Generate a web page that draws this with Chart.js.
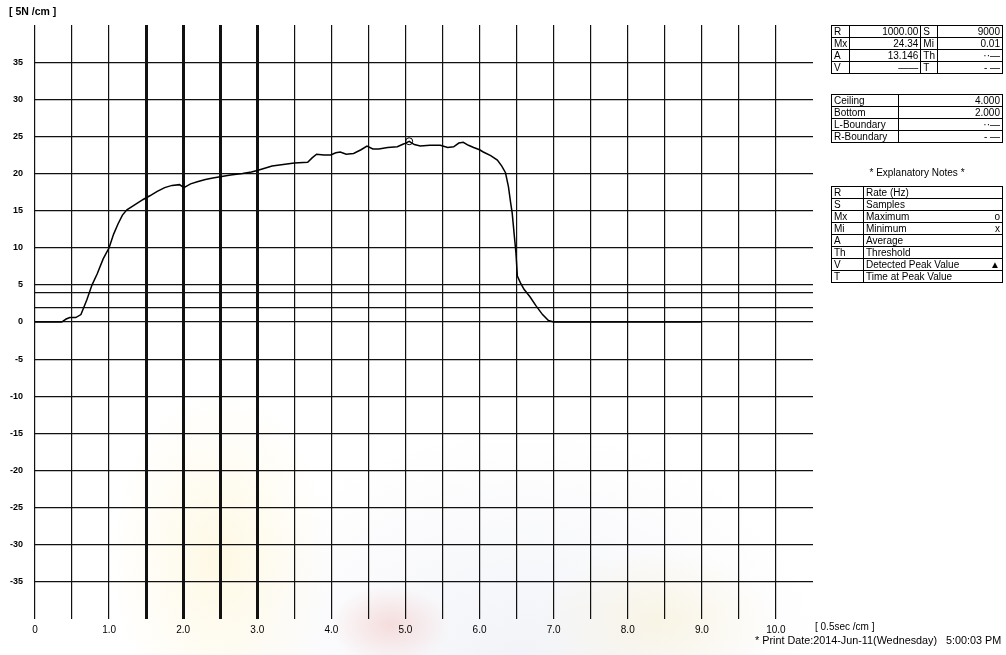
<!DOCTYPE html>
<html lang="en">
<head>
    <meta charset="UTF-8">
    <title>Force record</title>
    <script src="https://cdn.jsdelivr.net/npm/chart.js@4.4.3/dist/chart.umd.min.js"></script>
    <style>
        body { margin: 0; background: #fff; font-family: "Liberation Sans", Arial, sans-serif; color: #000; }
        #wrap { position: relative; width: 1006px; height: 655px; }
        #wm {
            position: absolute; left: 0; top: 0; width: 1006px; height: 655px;
            background:
                radial-gradient(ellipse 60px 40px at 390px 625px, rgba(235, 120, 110, 0.22), rgba(235, 120, 110, 0) 100%),
                radial-gradient(ellipse 110px 170px at 220px 560px, rgba(250, 215, 90, 0.16), rgba(250, 215, 90, 0) 100%),
                radial-gradient(ellipse 120px 70px at 660px 620px, rgba(250, 215, 90, 0.14), rgba(250, 215, 90, 0) 100%),
                radial-gradient(ellipse 300px 230px at 520px 660px, rgba(150, 160, 200, 0.12), rgba(150, 160, 200, 0) 100%);
        }
        #chart { position: absolute; left: 0; top: 0; }
        .lbl { position: absolute; font-size: 11px; white-space: nowrap; }
        table.info { position: absolute; border-collapse: collapse; font-size: 10px; border: 1.5px solid #000; }
        table.info td { border: 1px solid #000; padding: 0 2px; height: 11px; line-height: 11px; }
        table.info td.v { text-align: right; }
    </style>
</head>
<body>
<div id="wrap">
    <div id="wm"></div>
    <canvas id="chart" width="1006" height="655"></canvas>

    <div class="lbl" style="left:9px; top:5px; font-weight:bold; font-size:10.5px;">[ 5N /cm ]</div>
    <div class="lbl" style="left:815px; top:621px; font-size:10px;">[ 0.5sec /cm ]</div>
    <div class="lbl" style="left:755px; top:634px; font-size:10.8px;">* Print Date:2014-Jun-11(Wednesday)&nbsp;&nbsp; 5:00:03 PM</div>

    <table class="info" style="left:831px; top:25px; width:172px;">
        <tr><td style="width:13px">R</td><td class="v" style="width:66px">1000.00</td><td style="width:10px">S</td><td class="v">9000</td></tr>
        <tr><td>Mx</td><td class="v">24.34</td><td>Mi</td><td class="v">0.01</td></tr>
        <tr><td>A</td><td class="v">13.146</td><td>Th</td><td class="v">&middot;&middot;&mdash;</td></tr>
        <tr><td>V</td><td class="v">&mdash;&mdash;</td><td>T</td><td class="v">- &mdash;</td></tr>
    </table>

    <table class="info" style="left:831px; top:94px; width:172px;">
        <tr><td style="width:62px">Ceiling</td><td class="v">4.000</td></tr>
        <tr><td>Bottom</td><td class="v">2.000</td></tr>
        <tr><td>L-Boundary</td><td class="v">&middot;&middot;&mdash;</td></tr>
        <tr><td>R-Boundary</td><td class="v">- &mdash;</td></tr>
    </table>

    <div class="lbl" style="left:831px; width:172px; top:167px; text-align:center; font-size:10px;">* Explanatory Notes *</div>
    <table class="info" style="left:831px; top:186px; width:172px;">
        <tr><td style="width:27px">R</td><td>Rate (Hz)</td></tr>
        <tr><td>S</td><td>Samples</td></tr>
        <tr><td>Mx</td><td>Maximum<span style="float:right">o</span></td></tr>
        <tr><td>Mi</td><td>Minimum<span style="float:right">x</span></td></tr>
        <tr><td>A</td><td>Average</td></tr>
        <tr><td>Th</td><td>Threshold</td></tr>
        <tr><td>V</td><td>Detected Peak Value<span style="float:right">&#9650;</span></td></tr>
        <tr><td>T</td><td>Time at Peak Value</td></tr>
    </table>
</div>

<script>
    // 時間 [sec] と 力 [N]
    const timeSec = [0, 0.36, 0.42, 0.47, 0.55, 0.62, 0.70, 0.77, 0.84, 0.92, 1.00, 1.06, 1.12, 1.18, 1.24,
        1.35, 1.46, 1.55, 1.65, 1.75, 1.85, 1.95, 2.01, 2.10, 2.19, 2.30, 2.40, 2.52, 2.64, 2.80, 2.92,
        3.00, 3.10, 3.20, 3.35, 3.50, 3.68, 3.74, 3.80, 3.90, 3.99, 4.06, 4.12, 4.20, 4.30, 4.40, 4.48,
        4.56, 4.64, 4.76, 4.89, 4.98, 5.05, 5.12, 5.20, 5.33, 5.47, 5.57, 5.65, 5.72, 5.78, 5.85, 5.92,
        6.00, 6.05, 6.15, 6.24, 6.30, 6.35, 6.39, 6.42, 6.44, 6.47, 6.49, 6.51, 6.55, 6.60, 6.68, 6.76,
        6.85, 6.93, 7.00, 9.00];
    const forceN = [0, 0.0, 0.4, 0.6, 0.6, 1.0, 3.0, 5.0, 6.5, 8.5, 10.0, 11.8, 13.2, 14.4, 15.1,
        15.8, 16.5, 17.0, 17.6, 18.1, 18.4, 18.5, 18.1, 18.6, 18.9, 19.2, 19.4, 19.6, 19.8, 20.0, 20.2,
        20.4, 20.7, 21.0, 21.2, 21.4, 21.5, 22.1, 22.6, 22.5, 22.5, 22.8, 22.9, 22.6, 22.7, 23.2, 23.7,
        23.3, 23.3, 23.5, 23.6, 24.0, 24.34, 23.9, 23.7, 23.8, 23.8, 23.5, 23.6, 24.1, 24.2, 23.8, 23.5,
        23.2, 22.9, 22.4, 21.8, 21.0, 20.1, 18.2, 16.0, 14.7, 11.5, 9.4, 6.2, 5.3, 4.4, 3.4, 2.2,
        1.0, 0.2, 0.0, 0.0];

    // 最大値
    const maxPoint = [{ x: 5.05, y: 24.34 }];

    // 目盛り
    const yTicks = [-40, -35, -30, -25, -20, -15, -10, -5, 0, 2, 4, 5, 10, 15, 20, 25, 30, 35, 40];
    const yHidden = [-40, 2, 4, 40];       // 線のみ / 非表示ラベル
    const boldX = [1.5, 2.0, 2.5, 3.0];    // 太線

    const curve = timeSec.map((t, i) => ({ x: t, y: forceN[i] }));

    const ctx = document.getElementById('chart').getContext('2d');
    const myChart = new Chart(ctx, {
        type: 'scatter',
        data: {
            datasets: [{
                data: curve,
                showLine: true,
                borderColor: '#000',
                borderWidth: 1.5,
                pointRadius: 0,
                tension: 0,
            }, {
                data: maxPoint,
                pointStyle: 'circle',
                pointRadius: 3.5,
                borderColor: '#000',
                borderWidth: 1,
                backgroundColor: 'rgba(0,0,0,0)',
            }]
        },
        options: {
            animation: false,
            responsive: false,
            layout: { padding: { top: 25, right: 193, bottom: 0, left: 0 } },
            plugins: {
                legend: { display: false },
                tooltip: { enabled: false },
            },
            scales: {
                x: {
                    type: 'linear',
                    min: 0,
                    max: 10.5,
                    border: { display: false },
                    afterFit: (scale) => { scale.height = 36; },
                    grid: {
                        drawTicks: false,
                        color: (c) => c.tick && c.tick.value > 10.01 ? 'rgba(0,0,0,0)' : '#111',
                        lineWidth: (c) => c.tick && boldX.some(v => Math.abs(v - c.tick.value) < 0.01) ? 3 : 1.2,
                    },
                    ticks: {
                        stepSize: 0.5,
                        autoSkip: false,
                        maxRotation: 0,
                        padding: 5,
                        color: '#000',
                        font: { family: 'Liberation Sans', size: 10 },
                        callback: (v) => {
                            if (v === 0) return '0';
                            if (v > 10.01 || Math.abs(v % 1) > 0.01) return '';
                            return v.toFixed(1);
                        }
                    }
                },
                y: {
                    type: 'linear',
                    min: -40,
                    max: 40,
                    border: { display: false },
                    afterFit: (scale) => { scale.width = 35; },
                    afterBuildTicks: (scale) => {
                        scale.ticks = yTicks.map(v => ({ value: v }));
                    },
                    grid: {
                        drawTicks: false,
                        color: (c) => c.tick && Math.abs(c.tick.value) === 40 ? 'rgba(0,0,0,0)' : '#111',
                        lineWidth: 1.2,
                    },
                    ticks: {
                        autoSkip: false,
                        padding: 12,
                        color: '#000',
                        font: { family: 'Liberation Sans', size: 9, weight: 'bold' },
                        callback: (v) => yHidden.includes(v) ? '' : String(v)
                    }
                }
            }
        }
    });
</script>
</body>
</html>
